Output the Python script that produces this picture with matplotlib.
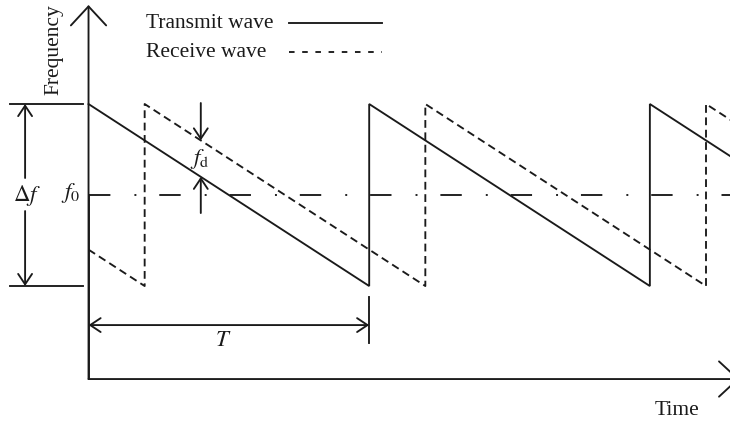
import matplotlib
matplotlib.use("Agg")
import matplotlib.pyplot as plt

# ---- waveform data (time in units of the sweep period, frequency normalised so f0 = 0, ±1 = sweep limits)
transmit_t = [0.0, 1.0, 1.0, 2.0, 2.0, 2.3]
transmit_f = [1.0, -1.0, 1.0, -1.0, 1.0, 0.4]

receive_t = [0.0, 0.2, 0.2, 1.2, 1.2, 2.2, 2.2, 2.3]
receive_f = [-0.6, -1.0, 1.0, -1.0, 1.0, -1.0, 1.0, 0.8]

f_centre = 0.0
f_high = 1.0
f_low = -1.0
period = 1.0
fd_time = 0.4          # where the Doppler offset is marked

legend_labels = ["Transmit wave", "Receive wave"]

# ---- style
INK = "#1a1a1a"
LW = 1.35
plt.rcParams["font.family"] = ["Liberation Serif", "DejaVu Serif"]
plt.rcParams["mathtext.fontset"] = "stix"
plt.rcParams["lines.scale_dashes"] = False
FS = 15.5

fig = plt.figure(figsize=(7.3, 4.24), dpi=100)
ax = fig.add_axes([0, 0, 1, 1])
ax.set_xlim(-0.3154, 2.2855)
ax.set_ylim(-2.516, 2.143)
ax.axis("off")

RX_DASH = (0, (5.6, 3.3))
CENTRE_DASH = (0, (15.4, 17.3, 1.4, 16.5))

# sweeps
ax.plot(transmit_t, transmit_f, color=INK, lw=LW, solid_joinstyle="miter")
ax.plot(receive_t, receive_f, color=INK, lw=LW, linestyle=RX_DASH)

# centre frequency
ax.plot([0.0, 2.3], [f_centre, f_centre], color=INK, lw=LW, linestyle=CENTRE_DASH)

# axes with open arrow heads
axis_arrow = dict(arrowstyle="->,head_length=1.37,head_width=1.27", mutation_scale=10,
                  lw=LW, color=INK, shrinkA=0, shrinkB=0)
y_base = -2.022
ax.annotate("", xy=(0.0, 2.088), xytext=(0.0, y_base), arrowprops=axis_arrow)
ax.annotate("", xy=(2.319, y_base), xytext=(0.0, y_base), arrowprops=axis_arrow,
            annotation_clip=False)
ax.plot([0.0, 0.0], [y_base, 0.0], color=INK, lw=LW)

small = dict(arrowstyle="->,head_length=0.75,head_width=0.5", mutation_scale=10,
             lw=LW, color=INK, shrinkA=0, shrinkB=0)

# Δf dimension
ext_x = [-0.280, -0.018]
ax.plot(ext_x, [f_high, f_high], color=INK, lw=LW)
ax.plot(ext_x, [f_low, f_low], color=INK, lw=LW)
dim_x = -0.226
ax.annotate("", xy=(dim_x, f_high), xytext=(dim_x, 0.187), arrowprops=small)
ax.annotate("", xy=(dim_x, f_low), xytext=(dim_x, -0.176), arrowprops=small)
ax.text(dim_x + 0.007, f_centre, r"$\Delta f$", fontsize=FS + 1, ha="center", va="center", color=INK)

# f0 label
ax.text(-0.029, f_centre + 0.02, r"$f_0$", fontsize=FS + 1, ha="right", va="center", color=INK)

# Doppler offset fd between the sweeps
rx_at = f_high - 2.0 * (fd_time - 0.2) / period
tx_at = f_high - 2.0 * fd_time / period
ax.annotate("", xy=(fd_time, rx_at), xytext=(fd_time, 1.011), arrowprops=small)
ax.annotate("", xy=(fd_time, tx_at), xytext=(fd_time, -0.198), arrowprops=small)
ax.text(fd_time - 0.003, 0.40, r"$f_{\mathrm{d}}$", fontsize=FS + 1, ha="center", va="center", color=INK)

# period T
t_y = -1.429
ax.annotate("", xy=(0.0, t_y), xytext=(period, t_y),
            arrowprops=dict(small, arrowstyle="<->,head_length=0.75,head_width=0.5"))
ax.plot([period, period], [-1.121, -1.626], color=INK, lw=LW)
ax.text(0.48, -1.593, r"$T$", fontsize=FS + 1, ha="center", va="center", color=INK)

# axis titles
ax.text(-0.122, 1.593, "Frequency", rotation=90, fontsize=FS, ha="center", va="center", color=INK)
ax.text(2.097, -2.363, "Time", fontsize=FS, ha="center", va="center", color=INK)

# key
key_x = 0.204
key_y = [1.890, 1.571]
key_line = [0.713, 1.047]
ax.text(key_x, key_y[0], legend_labels[0], fontsize=FS, ha="left", va="center", color=INK)
ax.text(key_x, key_y[1], legend_labels[1], fontsize=FS, ha="left", va="center", color=INK)
ax.plot(key_line, [key_y[0]] * 2, color=INK, lw=LW)
ax.plot(key_line, [key_y[1]] * 2, color=INK, lw=LW, linestyle=(0, (4.0, 5.5)))

fig.savefig("out.png", dpi=100)
